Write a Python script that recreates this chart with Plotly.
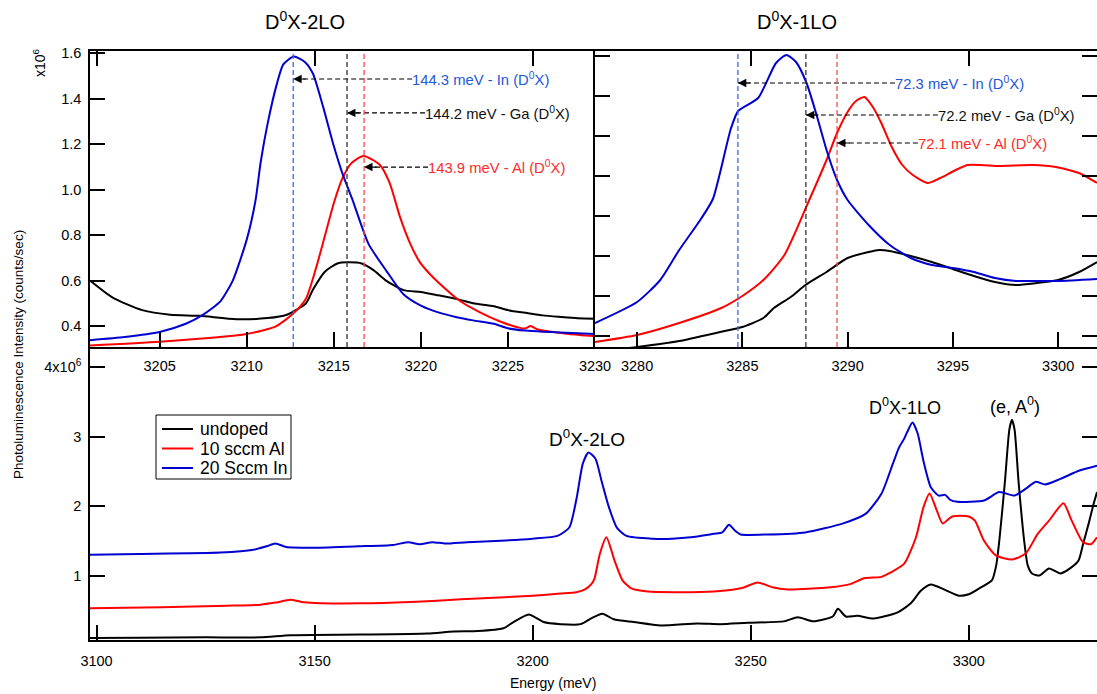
import plotly.graph_objects as go

# ---- top-left panel (D0X-2LO zoom), intensity in units of 1e6 counts/sec
tl_in_x = [3201, 3203, 3205, 3206.5, 3207.5, 3208.5, 3209.2, 3210, 3210.5, 3210.8, 3211.2, 3211.75,
           3212.1, 3212.7, 3213.35, 3213.8, 3214.4, 3214.95, 3215.5, 3216.05, 3217, 3218, 3219,
           3220, 3221, 3222, 3223, 3224.2, 3225, 3226, 3227, 3228, 3230]
tl_in_y = [0.338, 0.352, 0.374, 0.41, 0.45, 0.51, 0.60, 0.78, 0.95, 1.12, 1.29, 1.47,
           1.55, 1.585, 1.56, 1.51, 1.36, 1.205, 1.07, 0.96, 0.76, 0.645, 0.54,
           0.49, 0.46, 0.44, 0.425, 0.41, 0.39, 0.38, 0.375, 0.372, 0.365]

tl_al_x = [3201, 3205, 3210, 3211.7, 3212.67, 3213.4, 3214, 3214.5, 3215, 3215.5, 3216, 3216.7,
           3217.65, 3218.2, 3218.8, 3219.4, 3219.95, 3220.5, 3221.1, 3222.25, 3223.4, 3224.55,
           3225.7, 3226, 3226.3, 3226.7, 3227.5, 3228.5, 3230]
tl_al_y = [0.315, 0.331, 0.365, 0.40, 0.455, 0.52, 0.66, 0.80, 0.94, 1.05, 1.115, 1.148,
           1.108, 1.03, 0.88, 0.76, 0.68, 0.63, 0.585, 0.51, 0.46, 0.42,
           0.392, 0.39, 0.40, 0.385, 0.375, 0.365, 0.355]

tl_ga_x = [3201, 3202.3, 3204, 3205.6, 3207.3, 3209.4, 3211.2, 3212.3, 3213.4, 3213.8, 3214.5, 3215.2,
           3215.8, 3216.6, 3217.3, 3218, 3219, 3220, 3221, 3222.25, 3223, 3224.2, 3225, 3226.1,
           3227, 3228, 3229, 3230]
tl_ga_y = [0.60, 0.525, 0.47, 0.45, 0.445, 0.43, 0.435, 0.45, 0.50, 0.56, 0.64, 0.675,
           0.68, 0.675, 0.645, 0.60, 0.558, 0.55, 0.535, 0.515, 0.50, 0.487, 0.47, 0.457,
           0.447, 0.44, 0.434, 0.432]

# ---- top-right panel (D0X-1LO zoom), own unlabeled scale
tr_in_x = [3278, 3280, 3281.1, 3282, 3283, 3283.6, 3284.45, 3284.8, 3285.75, 3286.6, 3287.1, 3287.55,
           3288.05, 3288.5, 3289, 3289.5, 3290, 3291, 3292, 3293, 3294, 3295, 3296, 3297,
           3298, 3299, 3300, 3301.85]
tr_in_y = [0.465, 0.57, 0.68, 0.83, 0.98, 1.085, 1.435, 1.525, 1.59, 1.765, 1.805, 1.77,
           1.665, 1.515, 1.33, 1.18, 1.08, 0.955, 0.855, 0.79, 0.755, 0.74, 0.72, 0.69,
           0.675, 0.675, 0.675, 0.685]

tr_al_x = [3278, 3280, 3282, 3284, 3285, 3286, 3287, 3288.2, 3289, 3289.5, 3290, 3290.4, 3290.8,
           3291.2, 3291.6, 3292.1, 3292.6, 3293.1, 3293.8, 3294.4, 3295.7, 3297.2, 3298.8,
           3299.9, 3301, 3301.85]
tr_al_y = [0.37, 0.405, 0.465, 0.54, 0.60, 0.68, 0.805, 1.085, 1.28, 1.415, 1.52, 1.575, 1.595,
           1.545, 1.465, 1.345, 1.255, 1.205, 1.165, 1.19, 1.255, 1.25, 1.255,
           1.245, 1.215, 1.165]

tr_ga_x = [3278, 3280, 3282, 3283.95, 3285, 3286, 3286.5, 3287.3, 3288, 3289, 3290, 3291,
           3291.5, 3292, 3293, 3294, 3295, 3296, 3297, 3298, 3299, 3300, 3301, 3301.85]
tr_ga_y = [0.32, 0.345, 0.375, 0.42, 0.445, 0.49, 0.54, 0.595, 0.655, 0.72, 0.79, 0.82,
           0.83, 0.825, 0.80, 0.77, 0.735, 0.70, 0.67, 0.655, 0.665, 0.68, 0.72, 0.77]

# ---- bottom panel, full spectra
b_ga_x = [3098.5, 3110, 3125, 3137.6, 3144.5, 3160.5, 3175.9, 3181.9, 3187.4, 3193.3, 3195.6, 3199.1,
          3202.5, 3206.4, 3211, 3213.3, 3216, 3218.6, 3223.2, 3229.4, 3237.8, 3243, 3249.3, 3257.6,
          3260.8, 3264.4, 3268.8, 3270, 3271.8, 3274.5, 3278.2, 3283.7, 3286.7, 3289, 3291.3, 3294.3,
          3297.7, 3300, 3302.8, 3305.3, 3306.3, 3307, 3308.3, 3309.3, 3309.9, 3310.5, 3311.4, 3312.7,
          3313.5, 3314.5, 3316.2, 3318.4, 3321, 3323.6, 3325.2, 3326.2, 3327.5, 3328.5, 3329.4]
b_ga_y = [0.10, 0.105, 0.11, 0.11, 0.14, 0.15, 0.165, 0.195, 0.20, 0.24, 0.33, 0.44,
          0.33, 0.30, 0.30, 0.38, 0.45, 0.37, 0.33, 0.28, 0.31, 0.30, 0.32, 0.34,
          0.40, 0.34, 0.41, 0.52, 0.41, 0.42, 0.38, 0.47, 0.60, 0.78, 0.87, 0.80,
          0.71, 0.73, 0.83, 0.93, 1.15, 1.50, 2.36, 3.10, 3.24, 3.10, 2.36, 1.50,
          1.15, 1.03, 1.00, 1.10, 1.03, 1.12, 1.22, 1.45, 1.75, 2.00, 2.20]

b_al_x = [3098.5, 3115, 3130, 3137.6, 3141, 3144.5, 3147, 3150, 3160.6, 3172, 3180, 3183.5, 3191,
          3200, 3206.4, 3210, 3212, 3213.5, 3214.2, 3215.4, 3216.9, 3218.8, 3220.6, 3222.5, 3226.4,
          3232.3, 3241.5, 3248, 3251.6, 3255, 3258.5, 3268.3, 3273, 3276, 3280, 3282, 3285.2,
          3287.9, 3289.6, 3291, 3292.7, 3294, 3296.2, 3300, 3301.4, 3303.5, 3306.2, 3310, 3313.1,
          3315.8, 3318.4, 3321.7, 3323.6, 3326.2, 3328, 3329.4]
b_al_y = [0.53, 0.545, 0.565, 0.58, 0.61, 0.65, 0.62, 0.605, 0.60, 0.62, 0.645, 0.66, 0.68,
          0.71, 0.74, 0.76, 0.80, 0.88, 0.96, 1.31, 1.55, 1.21, 0.93, 0.82, 0.77,
          0.76, 0.77, 0.82, 0.90, 0.83, 0.80, 0.83, 0.88, 0.96, 0.98, 1.04, 1.17,
          1.55, 1.98, 2.18, 1.93, 1.75, 1.85, 1.85, 1.79, 1.50, 1.29, 1.23, 1.32,
          1.60, 1.79, 2.04, 1.79, 1.48, 1.45, 1.55]

b_in_x = [3098.5, 3110, 3128.4, 3136, 3139, 3141, 3143.5, 3150, 3160, 3168, 3171.5, 3174, 3177,
          3180, 3185, 3192.7, 3200, 3205.7, 3208.4, 3210.1, 3211.5, 3212.8, 3214.4, 3215.8, 3217.5,
          3219.3, 3221.5, 3227.5, 3232, 3236.3, 3241.5, 3243.5, 3245, 3246.5, 3247.7, 3253.8,
          3262.5, 3271.2, 3276.4, 3280, 3282.6, 3284, 3285.2, 3286, 3287.1, 3288.3, 3289.6, 3291.3,
          3293.1, 3294.6, 3295.7, 3297.4, 3303.5, 3307, 3310.5, 3313.1, 3315.4, 3317.5, 3321,
          3325.4, 3329.4]
b_in_y = [1.30, 1.31, 1.33, 1.37, 1.42, 1.46, 1.41, 1.40, 1.42, 1.44, 1.48, 1.45, 1.48,
          1.46, 1.48, 1.50, 1.53, 1.57, 1.69, 2.12, 2.61, 2.77, 2.68, 2.36, 1.98,
          1.69, 1.57, 1.53, 1.53, 1.55, 1.60, 1.62, 1.73, 1.64, 1.59, 1.59,
          1.62, 1.75, 1.89, 2.18, 2.61, 2.84, 2.97, 3.08, 3.20, 3.04, 2.65, 2.27,
          2.15, 2.16, 2.09, 2.06, 2.08, 2.20, 2.15, 2.25, 2.35, 2.31, 2.39,
          2.51, 2.58]

series_names = ["undoped", "10 sccm Al", "20 Sccm In"]

# peak markers (meV) and labels
tl_lines = [3212.67, 3215.76, 3216.74]
tl_labels = ["144.3 meV - In (D<sup>0</sup>X)", "144.2 meV - Ga (D<sup>0</sup>X)",
             "143.9 meV - Al (D<sup>0</sup>X)"]
tl_text_x = [3219.5, 3220.24, 3220.41]
tl_text_y = [1.486, 1.337, 1.099]

tr_lines = [3284.79, 3288.02, 3289.5]
tr_labels = ["72.3 meV - In (D<sup>0</sup>X)", "72.2 meV - Ga (D<sup>0</sup>X)",
             "72.1 meV - Al (D<sup>0</sup>X)"]
tr_text_x = [3292.25, 3294.29, 3293.34]
tr_text_y = [1.665, 1.505, 1.365]

BLACK = "#000000"
RED = "#ff0000"
BLUE = "#0000d0"
series_cols = [BLACK, RED, BLUE]
txt_cols = ["#2457d8", "#111111", "#ff2a2a"]
vline_cols = ["#3a6ae0", "#333333", "#ff4a4a"]
FONT = "Liberation Sans, Arial, sans-serif"

fig = go.Figure()


def add_line(x, y, color, xa, ya, name=None):
    fig.add_trace(go.Scatter(x=x, y=y, mode="lines", name=name, showlegend=False,
                             line=dict(color=color, width=2, shape="spline", smoothing=0.6),
                             xaxis=xa, yaxis=ya, hoverinfo="skip"))


add_line(b_ga_x, b_ga_y, BLACK, "x3", "y3", series_names[0])
add_line(b_al_x, b_al_y, RED, "x3", "y3", series_names[1])
add_line(b_in_x, b_in_y, BLUE, "x3", "y3", series_names[2])

add_line(tl_ga_x, tl_ga_y, BLACK, "x", "y", series_names[0])
add_line(tl_al_x, tl_al_y, RED, "x", "y", series_names[1])
add_line(tl_in_x, tl_in_y, BLUE, "x", "y", series_names[2])

add_line(tr_ga_x, tr_ga_y, BLACK, "x2", "y2", series_names[0])
add_line(tr_al_x, tr_al_y, RED, "x2", "y2", series_names[1])
add_line(tr_in_x, tr_in_y, BLUE, "x2", "y2", series_names[2])

shapes = []
annotations = []
for panel, lines, labels, tx, ty in [("", tl_lines, tl_labels, tl_text_x, tl_text_y),
                                     ("2", tr_lines, tr_labels, tr_text_x, tr_text_y)]:
    xr, yr = "x" + panel, "y" + panel
    for i in range(3):
        shapes.append(dict(type="line", xref=xr, yref=yr + " domain", x0=lines[i], x1=lines[i],
                           y0=0, y1=1, line=dict(color=vline_cols[i], width=1.3, dash="5px,3px")))
        shapes.append(dict(type="line", xref=xr, yref=yr, x0=tx[i], x1=lines[i], y0=ty[i], y1=ty[i],
                           line=dict(color=BLACK, width=1.2, dash="5px,3px")))
        annotations.append(dict(x=lines[i], y=ty[i], xref=xr, yref=yr, text="", showarrow=True,
                                ax=14, ay=0, arrowhead=2, arrowsize=1.4, arrowwidth=1.2,
                                arrowcolor=BLACK, standoff=0))
        annotations.append(dict(x=tx[i], y=ty[i], xref=xr, yref=yr, text=labels[i], showarrow=False,
                                xanchor="left", yanchor="middle", xshift=-2,
                                font=dict(size=14.8, color=txt_cols[i], family=FONT)))


def px_x(p):
    return (p - 90) / 1007


def px_y(p):
    return (640 - p) / 589


def px_note(txt, x, y, size, angle=0, anchor="center"):
    # position given in pixels of the 1097x694 frame
    annotations.append(dict(x=px_x(x), y=px_y(y), xref="paper", yref="paper",
                            text=txt, showarrow=False, xanchor=anchor, yanchor="middle",
                            textangle=angle, font=dict(size=size, color=BLACK, family=FONT)))


px_note("D<sup>0</sup>X-2LO", 305, 20, 20)
px_note("D<sup>0</sup>X-1LO", 797, 20, 20)
px_note("D<sup>0</sup>X-2LO", 587, 438, 19)
px_note("D<sup>0</sup>X-1LO", 905, 407, 18)
px_note("(e, A<sup>0</sup>)", 1015, 405, 18)
px_note("x10<sup>6</sup>", 39, 63, 14, -90)
px_note("Photoluminescence Intensity (counts/sec)", 18, 355, 13.5, -90)
px_note("Energy (meV)", 553, 683, 14)

# legend box drawn Igor-style: short line samples, tight rows
shapes.append(dict(type="rect", xref="paper", yref="paper", x0=px_x(156), x1=px_x(291),
                   y0=px_y(479), y1=px_y(415), line=dict(color=BLACK, width=1), fillcolor="white"))
for i, name in enumerate(series_names):
    row = 429 + i * 19.5
    shapes.append(dict(type="line", xref="paper", yref="paper", x0=px_x(162), x1=px_x(193),
                       y0=px_y(row), y1=px_y(row), line=dict(color=series_cols[i], width=2)))
    px_note(name, 198, row, 17.5, anchor="left")

ax_common = dict(showgrid=False, zeroline=False, showline=True, linecolor=BLACK, linewidth=1.5,
                 ticks="inside", ticklen=15, tickwidth=1.5, tickcolor=BLACK, automargin=False,
                 tickfont=dict(size=14.5, color=BLACK, family=FONT))

top_dom = [(640 - 347) / 589, 1]
split = (595 - 90) / 1007

fig.update_layout(
    template="none",
    width=1097, height=694, autosize=False,
    margin=dict(l=90, r=0, t=51, b=54, pad=0),
    paper_bgcolor="white", plot_bgcolor="rgba(0,0,0,0)",
    showlegend=False,
    xaxis=dict(ax_common, domain=[0, split], anchor="y", range=[3201, 3230],
               tickvals=[3205, 3210, 3215, 3220, 3225, 3230], ticklabelstandoff=5),
    yaxis=dict(ax_common, domain=top_dom, anchor="x", range=[0.308, 1.609],
               tickvals=[0.4, 0.6, 0.8, 1.0, 1.2, 1.4, 1.6], ticklabelstandoff=4,
               ticktext=["0.4", "0.6", "0.8", "1.0", "1.2", "1.4", "1.6"]),
    xaxis2=dict(ax_common, domain=[split, 1], anchor="y2", range=[3278, 3301.85],
                tickvals=[3280, 3285, 3290, 3295, 3300], ticklabelstandoff=5),
    yaxis2=dict(ax_common, domain=top_dom, anchor="x2", range=[0.345, 1.825], side="right",
                mirror="ticks", showticklabels=False,
                tickvals=[0.4, 0.6, 0.8, 1.0, 1.2, 1.4, 1.6, 1.8]),
    xaxis3=dict(ax_common, domain=[0, 1], anchor="y3", range=[3098.5, 3329.4], mirror="ticks",
                tickvals=[3100, 3150, 3200, 3250, 3300], ticklabelstandoff=7),
    yaxis3=dict(ax_common, domain=[0, 1], anchor="x3", range=[0.072, 8.547], mirror="ticks",
                tickvals=[1, 2, 3, 4], ticktext=["1", "2", "3", "4x10<sup>6</sup>"],
                ticklabelstandoff=4),
    shapes=shapes,
    annotations=annotations,
    font=dict(family=FONT, color=BLACK),
)

fig.write_html("out.html", config={"displayModeBar": False, "responsive": False},
               post_script="document.body.style.margin='0';document.body.style.overflow='hidden';")
